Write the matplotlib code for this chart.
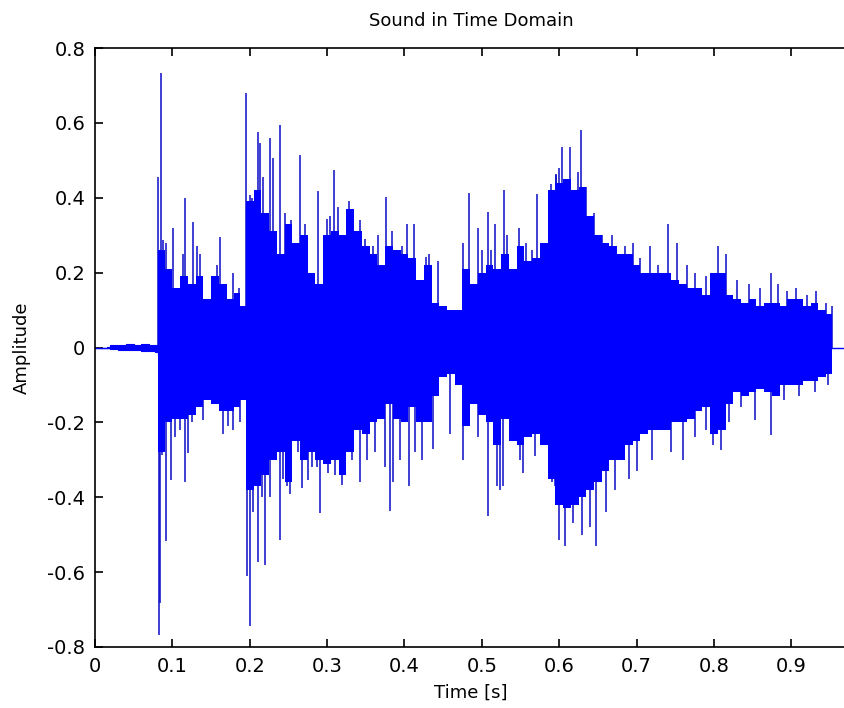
import matplotlib
matplotlib.use("Agg")
import matplotlib.pyplot as plt

# quiet part before the first onset
pre_t = [0.0, 0.015, 0.02, 0.03, 0.04, 0.05, 0.06, 0.07, 0.078, 0.082]
pre_hi = [0, 0.002, 0.006, 0.008, 0.01, 0.008, 0.009, 0.007, 0.008, 0.01]
pre_lo = [0, -0.002, -0.005, -0.008, -0.008, -0.007, -0.009, -0.01, -0.012, -0.02]

# bulk envelope of the sound (start of each block)
env_t = [0.082, 0.090, 0.100, 0.110, 0.120, 0.130, 0.140, 0.150, 0.160, 0.170,
         0.180, 0.188, 0.195, 0.205, 0.215, 0.225, 0.235, 0.245, 0.255, 0.265,
         0.275, 0.285, 0.295, 0.305, 0.315, 0.325, 0.335, 0.345, 0.355, 0.365,
         0.375, 0.385, 0.395, 0.405, 0.415, 0.425, 0.435, 0.445, 0.455, 0.465,
         0.475, 0.485, 0.495, 0.505, 0.515, 0.525, 0.535, 0.545, 0.555, 0.565,
         0.575, 0.585, 0.595, 0.605, 0.615, 0.625, 0.635, 0.645, 0.655, 0.665,
         0.675, 0.685, 0.695, 0.705, 0.715, 0.725, 0.735, 0.745, 0.755, 0.765,
         0.775, 0.785, 0.795, 0.805, 0.815, 0.825, 0.835, 0.845, 0.855, 0.865,
         0.875, 0.885, 0.895, 0.905, 0.915, 0.925, 0.935, 0.945, 0.953]
env_hi = [0.26, 0.21, 0.16, 0.19, 0.17, 0.19, 0.13, 0.19, 0.17, 0.13,
          0.145, 0.11, 0.39, 0.42, 0.36, 0.31, 0.25, 0.33, 0.28, 0.30,
          0.20, 0.17, 0.30, 0.31, 0.30, 0.37, 0.31, 0.27, 0.25, 0.22,
          0.27, 0.26, 0.25, 0.24, 0.18, 0.22, 0.12, 0.11, 0.10, 0.10,
          0.21, 0.17, 0.20, 0.22, 0.21, 0.25, 0.21, 0.27, 0.23, 0.24,
          0.28, 0.42, 0.44, 0.45, 0.42, 0.43, 0.35, 0.30, 0.28, 0.27,
          0.25, 0.25, 0.22, 0.20, 0.20, 0.20, 0.20, 0.18, 0.17, 0.16,
          0.16, 0.14, 0.20, 0.20, 0.14, 0.13, 0.12, 0.13, 0.11, 0.12,
          0.12, 0.11, 0.13, 0.13, 0.11, 0.12, 0.10, 0.09, 0.0]
env_lo = [-0.28, -0.20, -0.19, -0.19, -0.18, -0.16, -0.14, -0.15, -0.17, -0.17,
          -0.16, -0.14, -0.38, -0.37, -0.34, -0.30, -0.28, -0.36, -0.25, -0.30,
          -0.28, -0.30, -0.31, -0.30, -0.34, -0.28, -0.22, -0.23, -0.20, -0.19,
          -0.15, -0.19, -0.20, -0.16, -0.20, -0.20, -0.13, -0.08, -0.07, -0.10,
          -0.21, -0.15, -0.18, -0.20, -0.26, -0.19, -0.25, -0.26, -0.24, -0.23,
          -0.26, -0.35, -0.42, -0.43, -0.42, -0.40, -0.38, -0.36, -0.33, -0.30,
          -0.30, -0.26, -0.25, -0.23, -0.22, -0.22, -0.22, -0.20, -0.20, -0.19,
          -0.17, -0.16, -0.23, -0.22, -0.15, -0.12, -0.13, -0.12, -0.11, -0.12,
          -0.13, -0.10, -0.10, -0.10, -0.09, -0.09, -0.08, -0.07, 0.0]

# single peaks sticking out of the envelope
peak_t = [0.0818, 0.0849, 0.0883, 0.0914, 0.1004, 0.1142, 0.1163, 0.1271, 0.1314, 0.1358,
          0.1573, 0.1616, 0.1780, 0.1866, 0.1952, 0.2004, 0.2025, 0.2112, 0.2133, 0.2176,
          0.2262, 0.2306, 0.2392, 0.2456, 0.2533, 0.2649, 0.2714, 0.2877, 0.2994, 0.3037,
          0.3088, 0.3136, 0.3287, 0.3425, 0.3490, 0.3597, 0.3662, 0.3761, 0.3834, 0.3964,
          0.4028, 0.4127, 0.4277, 0.4320, 0.4436, 0.4760, 0.4833, 0.4945, 0.4996, 0.5083,
          0.5113, 0.5169, 0.5285, 0.5328, 0.5483, 0.5570, 0.5643, 0.5708, 0.5824, 0.5880,
          0.5900, 0.5958, 0.5965, 0.6001, 0.6030, 0.6137, 0.6245, 0.6280, 0.6340, 0.6450,
          0.6550, 0.6680, 0.6850, 0.6950, 0.7050, 0.7180, 0.7280, 0.7400, 0.7520, 0.7650,
          0.7750, 0.7900, 0.8054, 0.8150, 0.8300, 0.8450, 0.8600, 0.8744, 0.8830, 0.8950,
          0.9067, 0.9200, 0.9325, 0.9450, 0.9520]
peak_v = [0.456, 0.734, 0.287, 0.28, 0.32, 0.25, 0.40, 0.336, 0.27, 0.25,
          0.22, 0.296, 0.20, 0.16, 0.679, 0.407, 0.40, 0.576, 0.545, 0.456,
          0.559, 0.505, 0.594, 0.36, 0.34, 0.514, 0.33, 0.418, 0.343, 0.35,
          0.474, 0.376, 0.39, 0.34, 0.29, 0.27, 0.30, 0.403, 0.31, 0.27,
          0.33, 0.33, 0.243, 0.25, 0.23, 0.28, 0.412, 0.32, 0.26, 0.363,
          0.26, 0.33, 0.42, 0.30, 0.32, 0.28, 0.26, 0.41, 0.28, 0.42,
          0.438, 0.463, 0.46, 0.48, 0.536, 0.536, 0.47, 0.58, 0.43, 0.36,
          0.30, 0.30, 0.27, 0.28, 0.24, 0.27, 0.22, 0.33, 0.28, 0.22,
          0.20, 0.19, 0.27, 0.25, 0.18, 0.17, 0.16, 0.20, 0.17, 0.15,
          0.16, 0.14, 0.15, 0.12, 0.11]

trough_t = [0.0827, 0.0840, 0.0862, 0.0892, 0.0914, 0.0978, 0.1034, 0.1099, 0.1164, 0.1207,
            0.1250, 0.1400, 0.1659, 0.1724, 0.1780, 0.1875, 0.1969, 0.2004, 0.2047, 0.2112,
            0.2155, 0.2198, 0.2241, 0.2263, 0.2327, 0.2392, 0.2435, 0.2477, 0.2520, 0.2627,
            0.2671, 0.2714, 0.2748, 0.2800, 0.2864, 0.2908, 0.3015, 0.3102, 0.3188, 0.3231,
            0.3317, 0.3425, 0.3511, 0.3619, 0.3748, 0.3813, 0.3856, 0.3942, 0.4058, 0.4136,
            0.4222, 0.4371, 0.4587, 0.4760, 0.4953, 0.5083, 0.5190, 0.5233, 0.5277, 0.5406,
            0.5492, 0.5535, 0.5686, 0.5901, 0.5945, 0.6000, 0.6070, 0.6180, 0.6290, 0.6400,
            0.6480, 0.6600, 0.6720, 0.6900, 0.7000, 0.7200, 0.7450, 0.7600, 0.7750, 0.7900,
            0.7990, 0.8097, 0.8200, 0.8350, 0.8528, 0.8744, 0.8900, 0.9100, 0.9300, 0.9480]
trough_v = [-0.768, -0.683, -0.287, -0.26, -0.518, -0.354, -0.238, -0.22, -0.36, -0.282,
            -0.20, -0.194, -0.23, -0.21, -0.22, -0.20, -0.61, -0.745, -0.44, -0.572,
            -0.40, -0.58, -0.33, -0.40, -0.265, -0.514, -0.35, -0.37, -0.39, -0.28,
            -0.376, -0.30, -0.354, -0.32, -0.32, -0.443, -0.336, -0.34, -0.367, -0.33,
            -0.30, -0.358, -0.30, -0.28, -0.32, -0.438, -0.36, -0.30, -0.37, -0.28,
            -0.30, -0.27, -0.23, -0.30, -0.24, -0.45, -0.37, -0.38, -0.37, -0.25,
            -0.30, -0.336, -0.29, -0.36, -0.37, -0.514, -0.53, -0.47, -0.50, -0.48,
            -0.53, -0.44, -0.38, -0.35, -0.33, -0.30, -0.28, -0.30, -0.24, -0.22,
            -0.26, -0.274, -0.20, -0.16, -0.194, -0.234, -0.14, -0.13, -0.12, -0.10]

t_end = 0.972
blue = "#0000ff"
dark_blue = "#0c0cc8"

fig = plt.figure(figsize=(8.45, 7.08), dpi=100)
ax = fig.add_axes([95/845, 61/708, 752/845, 599/708])

ax.plot([0, t_end], [0, 0], color=blue, linewidth=1, zorder=1)
ax.vlines(peak_t, 0, peak_v, color=dark_blue, linewidth=1.1, zorder=1)
ax.vlines(trough_t, trough_v, 0, color=dark_blue, linewidth=1.1, zorder=1)
ax.fill_between(pre_t, pre_lo, pre_hi, step="post", color=blue, linewidth=0.8,
                antialiased=False, zorder=2)
ax.fill_between(env_t, env_lo, env_hi, step="post", color=blue, linewidth=0,
                antialiased=False, zorder=2)

ax.set_xlim(0, t_end)
ax.set_ylim(-0.8, 0.8)
ax.set_xticks([0, 0.1, 0.2, 0.3, 0.4, 0.5, 0.6, 0.7, 0.8, 0.9])
ax.set_xticklabels(["0", "0.1", "0.2", "0.3", "0.4", "0.5", "0.6", "0.7", "0.8", "0.9"])
ax.set_yticks([-0.8, -0.6, -0.4, -0.2, 0, 0.2, 0.4, 0.6, 0.8])
ax.set_yticklabels(["-0.8", "-0.6", "-0.4", "-0.2", "0", "0.2", "0.4", "0.6", "0.8"])
ax.tick_params(direction="in", length=6, width=1.2, top=True, right=False,
               labelsize=14, pad=7)
ax.spines["right"].set_visible(False)
for s in ax.spines.values():
    s.set_linewidth(1.2)

ax.set_title("Sound in Time Domain", fontsize=13, pad=16)
ax.set_xlabel("Time [s]", fontsize=13, labelpad=6)
ax.set_ylabel("Amplitude", fontsize=13, labelpad=12)

fig.savefig("out.png", dpi=100)
